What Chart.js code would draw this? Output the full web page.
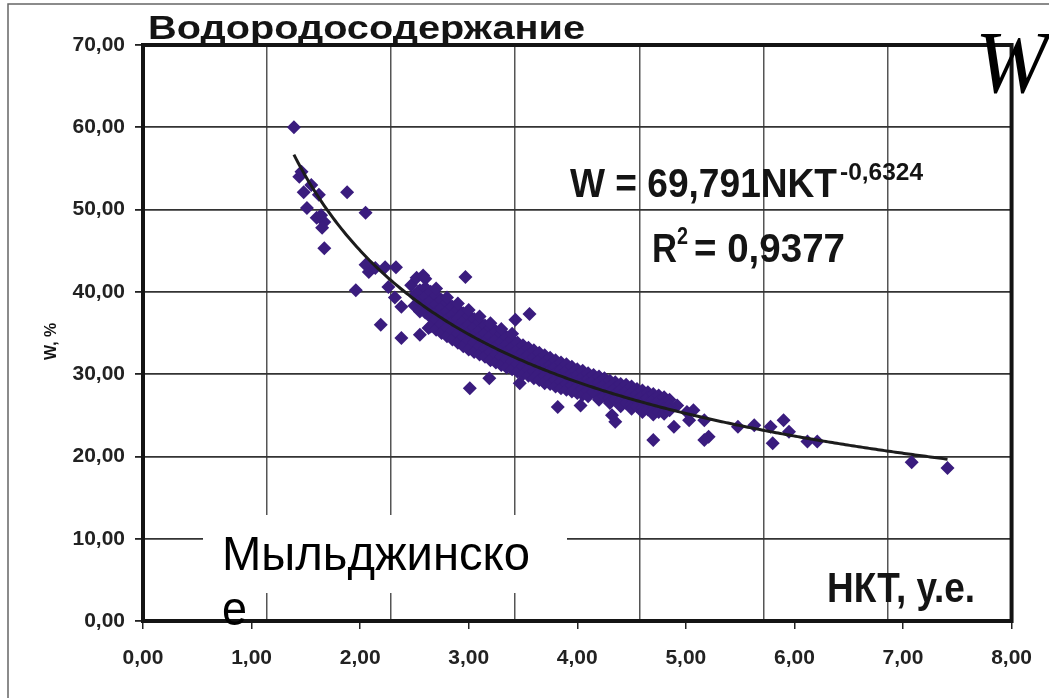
<!DOCTYPE html>
<html>
<head>
<meta charset="utf-8">
<script src="https://cdn.jsdelivr.net/npm/chart.js@4/dist/chart.umd.min.js"></script>
<style>
  body { margin: 0; background: #fff; }
  canvas { display: block; }
</style>
</head>
<body>
<canvas id="wChart" width="1049" height="698"></canvas>
<script>
// NKT (x) vs hydrogen content W, %  (x, y pairs), points off the main band
const outerPoints = [
  [1.39, 60.0], [1.44, 54.0], [1.46, 54.6], [1.48, 52.1], [1.55, 53.0], [1.51, 50.2],
  [1.62, 51.8], [1.60, 49.0], [1.64, 49.3], [1.67, 48.5], [1.65, 47.8], [1.67, 45.3],
  [1.88, 52.1], [2.05, 49.6], [1.96, 40.2], [2.05, 43.3], [2.08, 42.4], [2.14, 42.9],
  [2.23, 43.0], [2.33, 43.0], [2.19, 36.0], [2.38, 34.4], [2.26, 40.6], [2.32, 39.3],
  [2.38, 38.2], [2.47, 40.8], [2.52, 41.7], [2.55, 37.8], [2.55, 34.8], [2.63, 35.6],
  [2.58, 42.0], [2.97, 41.8], [3.43, 36.6], [3.56, 37.3], [3.19, 29.5], [3.01, 28.3],
  [3.47, 28.9], [3.70, 28.9], [3.82, 26.0], [4.03, 26.2], [4.35, 24.2], [4.32, 25.0],
  [4.70, 22.0], [4.89, 23.6], [5.07, 25.6], [5.03, 24.4], [5.17, 24.4], [5.21, 22.4],
  [5.17, 22.0], [5.48, 23.6], [5.63, 23.8], [5.78, 23.6], [5.80, 21.6], [5.90, 24.4],
  [5.95, 23.0], [6.12, 21.8], [6.21, 21.8], [7.08, 19.3], [7.41, 18.6], [4.92, 26.2],
  [5.01, 25.4]
];

// main dense band: one x per column, W values of that column
const bandX = [
  2.50, 2.55, 2.60, 2.65, 2.70, 2.75, 2.80, 2.85, 2.90, 2.95,
  3.00, 3.05, 3.10, 3.15, 3.20, 3.25, 3.30, 3.35, 3.40, 3.45,
  3.50, 3.55, 3.60, 3.65, 3.70, 3.75, 3.80, 3.85, 3.90, 3.95,
  4.00, 4.05, 4.10, 4.15, 4.20, 4.25, 4.30, 4.35, 4.40, 4.45,
  4.50, 4.55, 4.60, 4.65, 4.70, 4.75, 4.80, 4.85
];
const bandW = [
  [39.6, 38.3],
  [40.2, 38.9, 37.6],
  [40.5, 39.4, 38.4, 37.5, 41.6],
  [40.0, 38.9, 37.9, 36.9, 35.8],
  [39.6, 38.5, 37.5, 36.6, 35.4, 40.4],
  [39.0, 38.0, 37.1, 36.1, 35.0],
  [38.7, 37.6, 36.6, 35.7, 34.6, 39.3],
  [38.2, 37.2, 36.3, 35.3, 34.2],
  [37.9, 36.8, 35.8, 34.9, 33.8, 38.6],
  [37.4, 36.4, 35.5, 34.5, 33.4],
  [37.1, 36.0, 35.1, 34.1, 33.0, 37.8],
  [36.7, 35.7, 34.7, 33.8, 32.7],
  [36.3, 35.3, 34.4, 33.4, 32.4, 37.0],
  [35.9, 34.9, 34.0, 33.1, 32.1],
  [35.6, 34.6, 33.7, 32.7, 31.7, 36.2],
  [35.2, 34.2, 33.3, 32.4, 31.4],
  [34.9, 33.9, 33.0, 32.1, 31.1, 35.5],
  [34.5, 33.6, 32.7, 31.8, 30.8],
  [34.2, 33.2, 32.4, 31.5, 30.6, 34.9],
  [33.8, 32.9, 32.1, 31.2, 30.3],
  [33.5, 32.6, 31.8, 30.9, 30.0],
  [33.2, 32.3, 31.5, 30.6, 29.8],
  [32.9, 32.0, 31.2, 30.3, 29.5],
  [32.6, 31.7, 30.9, 30.1, 29.3],
  [32.3, 31.4, 30.6, 29.8, 29.0],
  [32.0, 31.1, 30.4, 29.6, 28.8],
  [31.7, 30.9, 30.1, 29.3, 28.5],
  [31.4, 30.6, 29.8, 29.1, 28.3],
  [31.2, 30.4, 29.6, 28.8, 28.1],
  [30.9, 30.1, 29.4, 28.6, 27.9],
  [30.6, 29.9, 29.1, 28.4, 27.7],
  [30.4, 29.6, 28.9, 28.2, 27.5],
  [30.1, 29.4, 28.7, 28.0, 27.3],
  [29.9, 29.2, 28.5, 27.8],
  [29.7, 29.0, 28.3, 27.6, 26.9],
  [29.5, 28.7, 28.0, 27.3],
  [29.2, 28.5, 27.8, 27.1, 26.5],
  [29.0, 28.3, 27.6, 26.9],
  [28.8, 28.1, 27.4, 26.7, 26.1],
  [28.7, 27.9, 27.2, 26.5],
  [28.5, 27.7, 27.0, 26.3, 25.8],
  [28.2, 27.5, 26.8, 26.1],
  [28.0, 27.3, 26.6, 25.9, 25.4],
  [27.8, 27.1, 26.4, 25.7],
  [27.6, 26.9, 26.2, 25.6, 25.1],
  [27.4, 26.7, 26.0, 25.4],
  [27.2, 26.5, 25.8, 25.2],
  [26.9, 26.2, 25.6]
];

// power trendline  W = A * NKT^B, R² = 0.9377
const TREND_A = 69.791;
const TREND_B = -0.6324;
const TREND_R2 = 0.9377;
const trendFrom = 1.39;
const trendTo = 7.41;

const xTicks = [0, 1, 2, 3, 4, 5, 6, 7, 8];
const yTicks = [0, 10, 20, 30, 40, 50, 60, 70];

const points = outerPoints.map(p => ({ x: p[0], y: p[1] }));
bandX.forEach((x, i) => bandW[i].forEach(w => points.push({ x: x, y: w })));

const trend = [];
for (let x = trendFrom; x <= trendTo + 1e-9; x += 0.02) {
  trend.push({ x: x, y: TREND_A * Math.pow(x, TREND_B) });
}

const comma = v => Number(v).toFixed(2).replace('.', ',');
const fmt4 = v => String(v).replace('.', ',');

// draw text squeezed/stretched to a given width
function fitText(ctx, text, x, y, font, width) {
  ctx.save();
  ctx.font = font;
  const w = ctx.measureText(text).width;
  ctx.translate(x, y);
  ctx.scale(width / w, 1);
  ctx.fillText(text, 0, 0);
  ctx.restore();
}

const decor = {
  id: 'decor',
  beforeDraw(chart) {
    const ctx = chart.ctx;
    ctx.save();
    ctx.fillStyle = '#fff';
    ctx.fillRect(0, 0, chart.width, chart.height);
    ctx.strokeStyle = '#666';
    ctx.lineWidth = 1.5;
    ctx.beginPath();
    ctx.moveTo(8, chart.height);
    ctx.lineTo(8, 4);
    ctx.lineTo(chart.width, 4);
    ctx.stroke();
    ctx.restore();
  },
  beforeDatasetsDraw(chart) {
    const ctx = chart.ctx;
    const a = chart.chartArea;
    ctx.save();
    ctx.strokeStyle = '#141414';
    ctx.lineWidth = 4;
    ctx.strokeRect(a.left, a.top, a.right - a.left, a.bottom - a.top);
    ctx.restore();
  },
  afterDraw(chart) {
    const ctx = chart.ctx;
    ctx.save();
    ctx.fillStyle = '#141414';
    ctx.textBaseline = 'alphabetic';

    fitText(ctx, 'Водородосодержание', 148, 39, 'bold 34px "Liberation Sans", Arial', 437);

    // equation of the trendline
    fitText(ctx, 'W = ' + fmt4(TREND_A) + 'NKT', 570, 197, 'bold 40px "Liberation Sans", Arial', 267);
    fitText(ctx, fmt4(TREND_B), 840, 180, 'bold 23px "Liberation Sans", Arial', 83);
    fitText(ctx, 'R', 652, 262, 'bold 40px "Liberation Sans", Arial', 25);
    fitText(ctx, '2', 677, 244, 'bold 23px "Liberation Sans", Arial', 11);
    fitText(ctx, '= ' + fmt4(TREND_R2), 694, 262, 'bold 40px "Liberation Sans", Arial', 151);

    // axis captions
    fitText(ctx, 'НКТ, у.е.', 827, 602, 'bold 42px "Liberation Sans", Arial', 148);
    ctx.save();
    ctx.translate(56, 360);
    ctx.rotate(-Math.PI / 2);
    ctx.font = 'bold 16px "Liberation Sans", Arial';
    ctx.fillText('W, %', 0, 0);
    ctx.restore();

    // field name with its white box
    ctx.fillStyle = '#fff';
    ctx.fillRect(203, 515, 364, 78);
    ctx.fillStyle = '#000';
    fitText(ctx, 'Мыльджинско', 222, 570, '48px "Liberation Sans", Arial', 308);
    fitText(ctx, 'е', 222, 625, '48px "Liberation Sans", Arial', 25);

    ctx.font = 'italic 88px "Liberation Serif", "Times New Roman", serif';
    ctx.fillStyle = '#000';
    ctx.fillText('W', 975, 92);
    ctx.restore();
  }
};

new Chart(document.getElementById('wChart').getContext('2d'), {
  data: {
    datasets: [
      {
        type: 'line',
        data: trend,
        borderColor: '#1c1c1c',
        borderWidth: 3,
        pointRadius: 0,
        fill: false,
        order: 0
      },
      {
        type: 'scatter',
        data: points,
        pointStyle: 'rectRot',
        pointRadius: 7,
        backgroundColor: '#3a1c7e',
        borderColor: '#3a1c7e',
        borderWidth: 0,
        order: 1
      }
    ]
  },
  options: {
    responsive: false,
    animation: false,
    layout: { padding: { left: 0, top: 45, right: 32, bottom: 0 } },
    plugins: { legend: { display: false }, tooltip: { enabled: false } },
    scales: {
      x: {
        type: 'linear',
        position: 'bottom',
        min: xTicks[0],
        max: xTicks[xTicks.length - 1],
        afterBuildTicks: s => { s.ticks = xTicks.map(v => ({ value: v })); },
        afterFit: s => { s.height = 77; },
        border: { display: false },
        grid: { drawOnChartArea: false, drawTicks: true, tickLength: 8, color: '#222', lineWidth: 1.5 },
        ticks: {
          padding: 17,
          color: '#222',
          font: { family: '"Liberation Sans", Arial', size: 21, weight: 'bold' },
          callback: v => comma(v),
          maxRotation: 0
        }
      },
      xg: {
        type: 'linear',
        position: 'bottom',
        min: 0,
        max: 7,
        afterBuildTicks: s => { s.ticks = [1, 2, 3, 4, 5, 6].map(v => ({ value: v })); },
        afterFit: s => { s.height = 0; },
        border: { display: false },
        grid: { drawTicks: false, color: '#555', lineWidth: 1.5 },
        ticks: { display: false }
      },
      y: {
        type: 'linear',
        min: yTicks[0],
        max: yTicks[yTicks.length - 1],
        afterBuildTicks: s => { s.ticks = yTicks.map(v => ({ value: v })); },
        afterFit: s => { s.width = 143; },
        border: { display: false },
        grid: { color: '#333', lineWidth: 1.8, tickLength: 8, tickColor: '#222' },
        ticks: {
          padding: 10,
          color: '#222',
          font: { family: '"Liberation Sans", Arial', size: 21, weight: 'bold' },
          callback: v => comma(v)
        }
      }
    }
  },
  plugins: [decor]
});
</script>
</body>
</html>
